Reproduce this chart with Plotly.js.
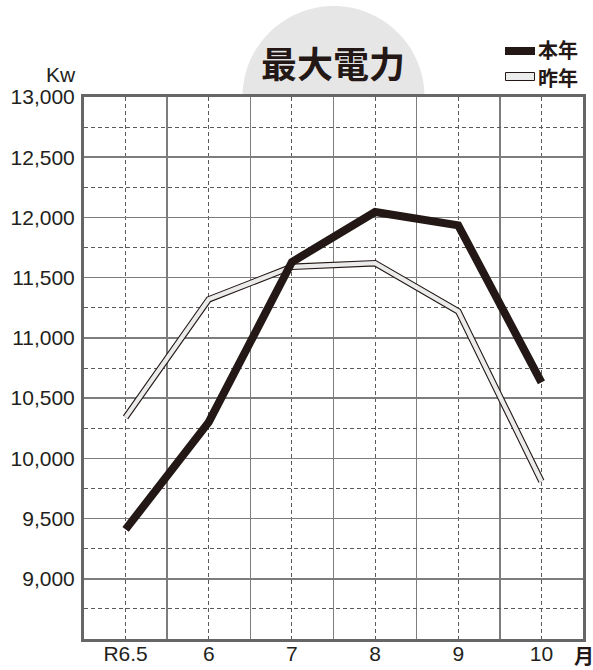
<!DOCTYPE html>
<html>
<head>
<meta charset="utf-8">
<script src="https://cdn.plot.ly/plotly-3.0.1.min.js"></script>
<style>html,body{margin:0;padding:0;background:#fff;}#chart{width:593px;height:670px;}</style>
</head>
<body>
<div id="chart"></div>
<script>
const categories = ["R6.5", "6", "7", "8", "9", "10"];
const thisYear = [9410, 10300, 11630, 12045, 11935, 10630];
const lastYear = [10340, 11320, 11590, 11620, 11220, 9810];
const yTickVals = [9000, 9500, 10000, 10500, 11000, 11500, 12000, 12500, 13000];

const W = 593, H = 670;
const M = {l: 84, r: 10, t: 97, b: 31};
const PW = W - M.l - M.r, PH = H - M.t - M.b;
const px = x => (x - M.l) / PW;
const py = y => (H - M.b - y) / PH;

const xIdx = categories.map((c, i) => i);
const dark = '#231815';
const txtFont = {family: 'Liberation Sans, Arial, sans-serif', size: 21, color: '#231f20'};
const cjk = 'Noto Sans CJK JP, sans-serif';

// semicircle behind title
const cx = 333.5, cy = 97, r = 91, k = 0.5523;
const sx = v => px(v).toFixed(5), sy = v => py(v).toFixed(5);
const semi = `M ${sx(cx - r)} ${sy(cy)} C ${sx(cx - r)} ${sy(cy - k * r)} ${sx(cx - k * r)} ${sy(cy - r)} ${sx(cx)} ${sy(cy - r)} C ${sx(cx + k * r)} ${sy(cy - r)} ${sx(cx + r)} ${sy(cy - k * r)} ${sx(cx + r)} ${sy(cy)} Z`;

const traces = [
  {x: xIdx, y: lastYear, mode: 'lines', line: {color: dark, width: 6.5}, hoverinfo: 'skip', showlegend: false},
  {x: xIdx, y: lastYear, mode: 'lines', line: {color: '#ebebeb', width: 4.3}, name: '昨年', showlegend: false},
  {x: xIdx, y: thisYear, mode: 'lines', line: {color: dark, width: 8}, name: '本年', showlegend: false}
];

const gridSolid = '#7d7d7d';
const gridDash = '#5a5a5a';

const layout = {
  width: W, height: H,
  margin: M,
  paper_bgcolor: '#fff', plot_bgcolor: '#fff',
  showlegend: false,
  xaxis: {
    range: [-0.5, 5.5],
    tickmode: 'array', tickvals: xIdx, ticktext: categories,
    showgrid: true, gridcolor: gridDash, griddash: '4px,3px', gridwidth: 1,
    minor: {tickmode: 'array', tickvals: [0.5, 1.5, 2.5, 3.5, 4.5], showgrid: true, gridcolor: gridSolid, gridwidth: 1.6, griddash: 'solid', ticks: ''},
    showline: true, mirror: true, linecolor: '#666', linewidth: 3,
    ticks: '', zeroline: false,
    tickfont: txtFont, ticklabelstandoff: -6
  },
  yaxis: {
    range: [8500, 13000],
    tickmode: 'array', tickvals: yTickVals, tickformat: ',d',
    showgrid: true, gridcolor: gridSolid, gridwidth: 1.6,
    minor: {dtick: 250, tick0: 0, showgrid: true, gridcolor: gridDash, gridwidth: 1, griddash: '4px,3px', ticks: ''},
    showline: true, mirror: true, linecolor: '#666', linewidth: 3,
    ticks: '', zeroline: false,
    tickfont: txtFont, ticklabelstandoff: 2
  },
  shapes: [
    {type: 'path', xref: 'paper', yref: 'paper', path: semi, fillcolor: '#e6e6e6', line: {width: 0}, layer: 'below'},
    {type: 'rect', xref: 'paper', yref: 'paper', x0: px(505), x1: px(535), y0: py(55), y1: py(47), fillcolor: dark, line: {width: 0}},
    {type: 'rect', xref: 'paper', yref: 'paper', x0: px(505.5), x1: px(534.5), y0: py(80.5), y1: py(72.5), fillcolor: '#ececec', line: {color: dark, width: 1}}
  ],
  annotations: [
    {text: '<b>最大電力</b>', xref: 'paper', yref: 'paper', x: px(333), y: py(62), showarrow: false, font: {family: cjk, size: 36, color: dark}, xanchor: 'center', yanchor: 'middle'},
    {text: '<b>本年</b>', xref: 'paper', yref: 'paper', x: px(536), y: py(50), showarrow: false, font: {family: cjk, size: 20, color: dark}, xanchor: 'left', yanchor: 'middle'},
    {text: '<b>昨年</b>', xref: 'paper', yref: 'paper', x: px(536), y: py(78), showarrow: false, font: {family: cjk, size: 20, color: dark}, xanchor: 'left', yanchor: 'middle'},
    {text: 'Kw', xref: 'paper', yref: 'paper', x: px(78), y: py(74), showarrow: false, font: txtFont, xanchor: 'right', yanchor: 'middle'},
    {text: '<b>月</b>', xref: 'paper', yref: 'paper', x: px(584), y: py(655), showarrow: false, font: {family: cjk, size: 20, color: dark}, xanchor: 'center', yanchor: 'middle'}
  ]
};

Plotly.newPlot('chart', traces, layout, {staticPlot: true, displayModeBar: false});
</script>
</body>
</html>
